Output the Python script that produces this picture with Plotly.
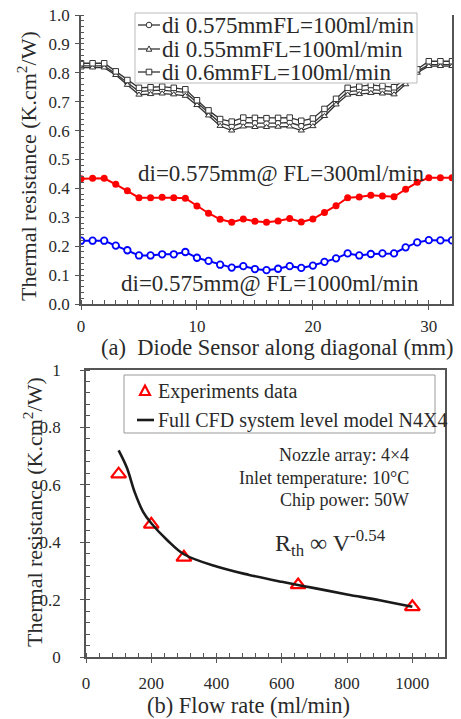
import plotly.graph_objects as go

# ---------------- data: panel (a) ----------------
sensor_pos = list(range(33))  # mm along the diagonal

r_di0575_fl100 = [0.824, 0.824, 0.824, 0.797, 0.765, 0.735, 0.738, 0.740, 0.736, 0.732,
                  0.697, 0.660, 0.626, 0.615, 0.628, 0.626, 0.625, 0.626, 0.628, 0.616,
                  0.625, 0.660, 0.698, 0.735, 0.738, 0.742, 0.739, 0.735, 0.768, 0.805,
                  0.828, 0.828, 0.828]
r_di055_fl100 = [0.818, 0.818, 0.818, 0.792, 0.758, 0.724, 0.726, 0.728, 0.725, 0.720,
                 0.688, 0.652, 0.616, 0.600, 0.614, 0.612, 0.612, 0.613, 0.614, 0.600,
                 0.615, 0.650, 0.690, 0.724, 0.726, 0.730, 0.728, 0.725, 0.760, 0.800,
                 0.823, 0.823, 0.823]
r_di06_fl100 = [0.833, 0.833, 0.833, 0.805, 0.775, 0.748, 0.750, 0.752, 0.748, 0.743,
                0.705, 0.670, 0.640, 0.631, 0.645, 0.644, 0.643, 0.644, 0.645, 0.634,
                0.642, 0.675, 0.710, 0.748, 0.752, 0.758, 0.754, 0.750, 0.780, 0.812,
                0.840, 0.840, 0.840]
r_di0575_fl300 = [0.433, 0.435, 0.435, 0.414, 0.392, 0.368, 0.368, 0.369, 0.368, 0.366,
                  0.339, 0.314, 0.293, 0.283, 0.294, 0.286, 0.283, 0.287, 0.296, 0.284,
                  0.294, 0.317, 0.340, 0.368, 0.370, 0.376, 0.374, 0.371, 0.397, 0.421,
                  0.437, 0.437, 0.437]
r_di0575_fl1000 = [0.219, 0.219, 0.219, 0.202, 0.186, 0.168, 0.168, 0.172, 0.172, 0.180,
                   0.160, 0.149, 0.136, 0.126, 0.131, 0.121, 0.117, 0.122, 0.131, 0.125,
                   0.133, 0.146, 0.158, 0.175, 0.168, 0.173, 0.175, 0.175, 0.196, 0.213,
                   0.221, 0.220, 0.220]

# ---------------- data: panel (b) ----------------
exp_flow = [100, 200, 300, 650, 1000]
exp_rth = [0.637, 0.462, 0.347, 0.251, 0.175]

cfd_flow = [100, 125, 150, 175, 200, 250, 300, 400, 500, 600, 700, 800, 900, 1000]
cfd_rth = [0.720, 0.660, 0.572, 0.506, 0.466, 0.406, 0.358, 0.315, 0.286, 0.262,
           0.240, 0.218, 0.198, 0.175]

SERIF = "Liberation Serif"
TXT = "#2a2a2a"
AX = "#555555"
GRAYLINE = "#333333"
W, H = 461, 719


def px(x):
    return x / W


def py(y):
    return 1 - y / H


fig = go.Figure()

gray_series = [
    ("di 0.575mmFL=100ml/min", r_di0575_fl100, "circle"),
    ("di 0.55mmFL=100ml/min", r_di055_fl100, "triangle-up"),
    ("di 0.6mmFL=100ml/min", r_di06_fl100, "square"),
]
for name, vals, sym in gray_series:
    fig.add_trace(go.Scatter(
        x=sensor_pos, y=vals, name=name, mode="lines+markers", showlegend=False,
        line=dict(color=GRAYLINE, width=1.3),
        marker=dict(symbol=sym, size=5.5, color="white",
                    line=dict(color=GRAYLINE, width=1)),
        xaxis="x", yaxis="y",
    ))

fig.add_trace(go.Scatter(
    x=sensor_pos, y=r_di0575_fl300, mode="lines+markers", showlegend=False,
    line=dict(color="#ff0000", width=2),
    marker=dict(symbol="circle", size=7, color="#ff0000"),
    xaxis="x", yaxis="y",
))
fig.add_trace(go.Scatter(
    x=sensor_pos, y=r_di0575_fl1000, mode="lines+markers", showlegend=False,
    line=dict(color="#0000ff", width=2),
    marker=dict(symbol="circle", size=6.5, color="white",
                line=dict(color="#0000ff", width=1.8)),
    xaxis="x", yaxis="y",
))

fig.add_trace(go.Scatter(
    x=exp_flow, y=exp_rth, name="Experiments data", mode="markers", showlegend=False,
    marker=dict(symbol="triangle-up-open", size=13, color="#ff0000",
                line=dict(color="#ff0000", width=2.2)),
    xaxis="x2", yaxis="y2",
))
fig.add_trace(go.Scatter(
    x=cfd_flow, y=cfd_rth, name="Full CFD system level model N4X4", mode="lines",
    showlegend=False,
    line=dict(color="#1a1a1a", width=2.6, shape="spline", smoothing=1.0),
    xaxis="x2", yaxis="y2",
))

tickfont = dict(family=SERIF, size=17, color=TXT)

fig.update_layout(
    width=W, height=H,
    margin=dict(l=0, r=0, t=0, b=0, autoexpand=False),
    paper_bgcolor="white", plot_bgcolor="white",
    font=dict(family=SERIF, color=TXT),
    showlegend=False,
    xaxis=dict(
        domain=[px(81), px(452)], anchor="y", range=[0, 32],
        tickvals=[0, 10, 20, 30], tickfont=tickfont, ticklabelstandoff=2,
        showline=True, linecolor=AX, linewidth=1.5, mirror=False,
        ticks="outside", ticklen=4, tickcolor=AX, tickwidth=1.2,
        minor=dict(dtick=1, ticks="inside", ticklen=4, tickcolor=AX, tickwidth=1),
        showgrid=False, zeroline=False,
    ),
    yaxis=dict(
        domain=[py(304), py(15)], anchor="x", range=[0, 1.0],
        dtick=0.1, tickformat=".1f", tickfont=tickfont, ticklabelstandoff=2,
        showline=True, linecolor=AX, linewidth=1.5, mirror=True,
        ticks="outside", ticklen=4, tickcolor=AX, tickwidth=1.2,
        minor=dict(dtick=0.02, ticks="inside", ticklen=3, tickcolor=AX, tickwidth=1),
        showgrid=False, zeroline=False,
    ),
    xaxis2=dict(
        domain=[px(86), px(445)], anchor="y2", range=[0, 1100],
        tickvals=[0, 200, 400, 600, 800, 1000], tickfont=tickfont, ticklabelstandoff=6,
        showline=True, linecolor=AX, linewidth=1.5, mirror=True,
        ticks="outside", ticklen=4, tickcolor=AX, tickwidth=1.2,
        minor=dict(dtick=40, ticks="inside", ticklen=4, tickcolor=AX, tickwidth=1),
        showgrid=False, zeroline=False,
    ),
    yaxis2=dict(
        domain=[py(657), py(370)], anchor="x2", range=[0, 1.0],
        tickvals=[0, 0.2, 0.4, 0.6, 0.8, 1.0], ticktext=["0", "0.2", "0.4", "0.6", "0.8", "1"],
        tickfont=tickfont, ticklabelstandoff=16,
        showline=True, linecolor=AX, linewidth=1.5, mirror=True,
        ticks="outside", ticklen=4, tickcolor=AX, tickwidth=1.2,
        minor=dict(dtick=0.04, ticks="inside", ticklen=4, tickcolor=AX, tickwidth=1),
        showgrid=False, zeroline=False,
    ),
)

shapes = []
annots = []


def text(t, x, y, size, xanchor="left", angle=0):
    annots.append(dict(
        text=t, x=px(x), y=py(y), xref="paper", yref="paper",
        xanchor=xanchor, yanchor="middle", showarrow=False, textangle=angle,
        font=dict(family=SERIF, size=size, color=TXT),
    ))


def marker_shape(kind, cx, cy, r, color, fill, lw):
    common = dict(xref="paper", yref="paper", xsizemode="pixel", ysizemode="pixel",
                  xanchor=px(cx), yanchor=py(cy), fillcolor=fill,
                  line=dict(color=color, width=lw), layer="above")
    if kind == "circle":
        shapes.append(dict(type="circle", x0=-r, x1=r, y0=-r, y1=r, **common))
    elif kind == "square":
        shapes.append(dict(type="rect", x0=-r, x1=r, y0=-r, y1=r, **common))
    else:
        shapes.append(dict(type="path",
                           path=f"M {-r} {-r * 0.8} L {r} {-r * 0.8} L 0 {r * 1.1} Z",
                           **common))


# legend box, panel (a)
shapes.append(dict(type="rect", xref="paper", yref="paper",
                   x0=px(135), x1=px(417), y0=py(83), y1=py(13),
                   fillcolor="white", line=dict(color="#bbbbbb", width=1), layer="above"))
legend_a_rows = [(25, gray_series[0]), (49, gray_series[1]), (72, gray_series[2])]
for yrow, (name, _vals, sym) in legend_a_rows:
    shapes.append(dict(type="line", xref="paper", yref="paper",
                       x0=px(138), x1=px(160), y0=py(yrow), y1=py(yrow),
                       line=dict(color=GRAYLINE, width=1.3), layer="above"))
    marker_shape(sym if sym != "triangle-up" else "triangle", 149, yrow, 2.8,
                 GRAYLINE, "white", 1)
    text(name, 160, yrow, 23)

# legend box, panel (b)
shapes.append(dict(type="rect", xref="paper", yref="paper",
                   x0=px(124), x1=px(435), y0=py(433), y1=py(375),
                   fillcolor="white", line=dict(color="#999999", width=1), layer="above"))
marker_shape("triangle", 145, 391, 5, "#ff0000", "white", 2.2)
text("Experiments data", 156, 391, 20)
shapes.append(dict(type="line", xref="paper", yref="paper",
                   x0=px(137), x1=px(154), y0=py(420), y1=py(420),
                   line=dict(color="#1a1a1a", width=2.6), layer="above"))
text("Full CFD system level model N4X4", 156, 420, 20)

# axis titles
text("(a)  Diode Sensor along diagonal (mm)", 277, 347, 22.5, xanchor="center")
text("(b) Flow rate (ml/min)", 248, 705, 22.5, xanchor="center")
text("Thermal resistance (K.cm<sup>2</sup>/W)", 27, 166, 22, xanchor="center", angle=-90)
text("Thermal resistance (K.cm<sup>2</sup>/W)", 33, 512, 22, xanchor="center", angle=-90)

# in-plot labels
text("di=0.575mm@ FL=300ml/min", 281, 173, 23, xanchor="center")
text("di=0.575mm@ FL=1000ml/min", 270, 283, 23, xanchor="center")
text("Nozzle array: 4×4", 411, 455, 18, xanchor="right")
text("Inlet temperature: 10°C", 411, 478, 18, xanchor="right")
text("Chip power: 50W", 411, 500, 18, xanchor="right")
text("R<sub>th</sub> ∞ V<sup>-0.54</sup>", 330, 543, 24, xanchor="center")

fig.update_layout(shapes=shapes, annotations=annots)

fig.write_html("out.html")
